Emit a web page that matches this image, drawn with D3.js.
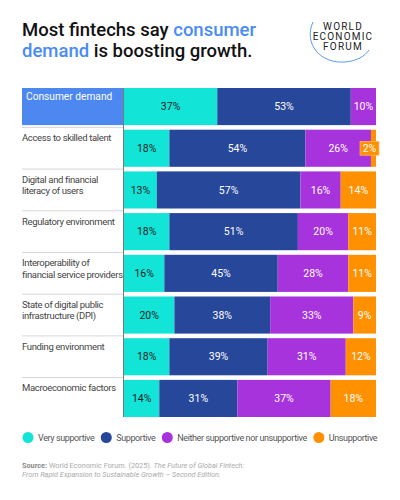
<!DOCTYPE html>
<html lang="en">
<head>
<meta charset="UTF-8">
<title>Most fintechs say consumer demand is boosting growth</title>
<script src="https://d3js.org/d3.v7.min.js"></script>
<style>
    body {
        margin: 0;
        background: #ffffff;
        font-family: Roboto, "Liberation Sans", Arial, sans-serif;
    }
    svg text { font-family: Roboto, "Liberation Sans", Arial, sans-serif; }
</style>
</head>
<body>
<svg id="chart" width="400" height="500"></svg>
<script>
    // Data
    var categories = [
        "Consumer demand",
        "Access to skilled talent",
        "Digital and financial literacy of users",
        "Regulatory environment",
        "Interoperability of financial service providers",
        "State of digital public infrastructure (DPI)",
        "Funding environment",
        "Macroeconomic factors"
    ];
    // label lines as shown in the picture
    var labelLines = [
        ["Consumer demand"],
        ["Access to skilled talent"],
        ["Digital and financial", "literacy of users"],
        ["Regulatory environment"],
        ["Interoperability of", "financial service providers"],
        ["State of digital public", "infrastructure (DPI)"],
        ["Funding environment"],
        ["Macroeconomic factors"]
    ];
    var seriesNames = ["Very supportive", "Supportive", "Neither supportive nor unsupportive", "Unsupportive"];
    var verySupportive = [37, 18, 13, 18, 16, 20, 18, 14];
    var supportive     = [53, 54, 57, 51, 45, 38, 39, 31];
    var neither        = [10, 26, 16, 20, 28, 33, 31, 37];
    var unsupportive   = [0, 2, 14, 11, 11, 9, 12, 18];

    var colors = ["#13e4d8", "#27479a", "#a733dc", "#ff9100"];
    var textColors = ["#1d1d1d", "#ffffff", "#ffffff", "#ffffff"];

    var svg = d3.select("#chart");

    // Title
    var title = svg.append("text")
        .attr("x", 22).attr("y", 36)
        .style("font-size", "18.5px")
        .style("font-weight", "500")
        .attr("fill", "#111");
    title.append("tspan").text("Most fintechs say ");
    title.append("tspan").attr("fill", "#4a8bf5").text("consumer");
    var title2 = svg.append("text")
        .attr("x", 22).attr("y", 57)
        .style("font-size", "18.5px")
        .style("font-weight", "500")
        .attr("fill", "#111");
    title2.append("tspan").attr("fill", "#4a8bf5").text("demand");
    title2.append("tspan").text(" is boosting growth.");

    // WEF logo
    var logo = svg.append("g").attr("transform", "translate(343,0)");
    logo.append("path")
        .attr("d", "M-30,22 C-40,44 -22,64 2,62 C14,61 22,56 26,50")
        .attr("fill", "none")
        .attr("stroke", "#4a90e2")
        .attr("stroke-width", 0.9);
    ["WORLD", "ECONOMIC", "FORUM"].forEach(function(w, i) {
        logo.append("text")
            .attr("x", 0).attr("y", 29.5 + i * 10.3)
            .attr("text-anchor", "middle")
            .style("font-size", "10px")
            .style("letter-spacing", "1.2px")
            .attr("fill", "#222")
            .text(w);
    });

    // Scales
    var x = d3.scaleLinear().domain([0, 100]).range([124, 376]);
    var y = d3.scaleBand().domain(categories).range([88, 417]).paddingInner(0.11);

    var rows = categories.map(function(c, i) {
        return { cat: c, vals: [verySupportive[i], supportive[i], neither[i], unsupportive[i]] };
    });

    // row separators in label column
    svg.append("g").selectAll("line")
        .data(categories.slice(1))
        .enter().append("line")
        .attr("x1", 22).attr("x2", 123)
        .attr("y1", function(d) { return y(d) - y.step() * y.paddingInner() / 2; })
        .attr("y2", function(d) { return y(d) - y.step() * y.paddingInner() / 2; })
        .attr("stroke", "#d6d6d6").attr("stroke-width", 1);

    // highlight box for the first category
    svg.append("rect")
        .attr("x", 22).attr("y", y(categories[0]))
        .attr("width", 101).attr("height", y.bandwidth())
        .attr("fill", "#4d88f1");

    // labels
    var labels = svg.append("g");
    rows.forEach(function(r, i) {
        var lx = i === 0 ? 26 : 22;
        var t = labels.append("text")
            .attr("x", lx)
            .attr("y", y(r.cat) + 11.5)
            .style("font-size", i === 0 ? "10.2px" : "9.5px")
            .style("letter-spacing", i === 0 ? "0px" : "-0.35px")
            .attr("fill", i === 0 ? "#ffffff" : "#444");
        labelLines[i].forEach(function(line, j) {
            t.append("tspan").attr("x", lx).attr("dy", j === 0 ? 0 : 11.3).text(line);
        });
    });

    // stacked bars
    var barG = svg.append("g");
    rows.forEach(function(r) {
        var acc = 0;
        r.vals.forEach(function(v, k) {
            if (v <= 0) return;
            barG.append("rect")
                .attr("x", x(acc))
                .attr("y", y(r.cat))
                .attr("width", x(acc + v) - x(acc))
                .attr("height", y.bandwidth())
                .attr("fill", colors[k]);
            if (v >= 5) {
                barG.append("text")
                    .attr("x", (x(acc) + x(acc + v)) / 2)
                    .attr("y", y(r.cat) + y.bandwidth() / 2)
                    .attr("dy", "0.35em")
                    .attr("text-anchor", "middle")
                    .style("font-size", "10.5px")
                    .attr("fill", textColors[k])
                    .text(v + "%");
            } else {
                // small value gets a callout box
                var bx = x(100) + 3 - 19;
                var cy = y(r.cat) + y.bandwidth() / 2;
                barG.append("rect")
                    .attr("x", bx).attr("y", cy - 7)
                    .attr("width", 19).attr("height", 14)
                    .attr("fill", colors[k])
                    .attr("stroke", "#ffc27a").attr("stroke-width", 0.6);
                barG.append("text")
                    .attr("x", bx + 9.5).attr("y", cy)
                    .attr("dy", "0.35em")
                    .attr("text-anchor", "middle")
                    .style("font-size", "10.5px")
                    .attr("fill", "#fff")
                    .text(v + "%");
            }
            acc += v;
        });
    });

    // axis line at the start of bars
    svg.append("line")
        .attr("x1", 123.5).attr("x2", 123.5)
        .attr("y1", 88).attr("y2", 417)
        .attr("stroke", "#555").attr("stroke-width", 0.8);

    // legend
    var legend = svg.append("g");
    var lx = 28;
    seriesNames.forEach(function(name, k) {
        legend.append("circle")
            .attr("cx", lx).attr("cy", 437.5).attr("r", 5.5)
            .attr("fill", colors[k]);
        var t = legend.append("text")
            .attr("x", lx + 10).attr("y", 437.5).attr("dy", "0.35em")
            .style("font-size", "9px")
            .style("letter-spacing", "-0.4px")
            .attr("fill", "#555")
            .text(name);
        lx = lx + 10 + t.node().getComputedTextLength() + 12;
    });

    // source
    var src1 = svg.append("text").attr("x", 22).attr("y", 468)
        .style("font-size", "7.3px").attr("fill", "#aaa");
    src1.append("tspan").style("font-weight", "bold").attr("fill", "#888").text("Source: ");
    src1.append("tspan").text("World Economic Forum. (2025). ");
    src1.append("tspan").style("font-style", "italic").text("The Future of Global Fintech:");
    svg.append("text").attr("x", 22).attr("y", 477)
        .style("font-size", "7.3px").style("font-style", "italic").attr("fill", "#aaa")
        .text("From Rapid Expansion to Sustainable Growth \u2013 Second Edition.");
</script>
</body>
</html>
